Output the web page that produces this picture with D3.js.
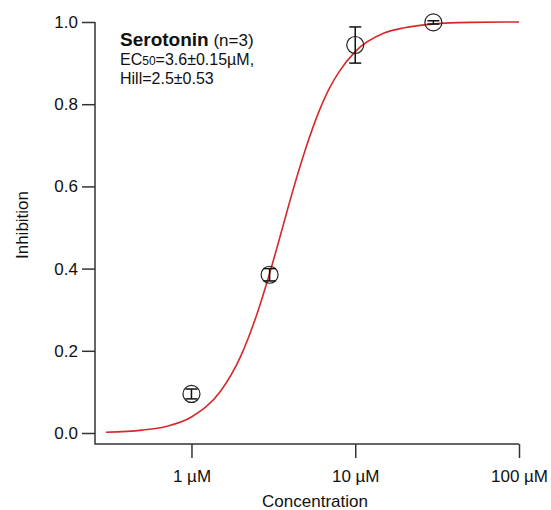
<!DOCTYPE html>
<html>
<head>
<meta charset="utf-8">
<script src="https://cdn.jsdelivr.net/npm/d3@7"></script>
<style>
  body { margin: 0; background: #fff; }
  svg { display: block; font-family: "Liberation Sans", Arial, sans-serif; }
</style>
</head>
<body>
<svg width="551" height="510"></svg>
<script>
// measured points (concentration in µM)
const conc = [1, 3, 10, 30];
const inhib = [0.095, 0.385, 0.944, 0.999];
const errs = [0.012, 0.015, 0.044, 0.004];

// fitted curve
const fitConc = [0.3, 0.5, 0.7, 1, 1.5, 2, 2.5, 3, 3.6, 4, 5, 6, 7, 8, 10, 15, 20, 30, 50, 100];
const fitVal = [0.002, 0.007, 0.016, 0.039, 0.101, 0.187, 0.287, 0.388, 0.5, 0.566, 0.694, 0.782, 0.841, 0.88, 0.928, 0.973, 0.986, 0.995, 0.999, 1.0];

const xTicks = [1, 10, 100];
const xTickLabels = ["1 µM", "10 µM", "100 µM"];
const yTicks = [0, 0.2, 0.4, 0.6, 0.8, 1.0];

const svg = d3.select("svg");
const axisColor = "#333";

const x = d3.scaleLog().domain([0.254, 100]).range([94, 519]);
const y = d3.scaleLinear().domain([0, 1]).range([433, 22]);
const yBottom = 444;

// axes
const xAxis = svg.append("g").attr("transform", `translate(0,${yBottom})`)
  .call(d3.axisBottom(x).tickValues(xTicks).tickFormat((d, i) => xTickLabels[i])
    .tickSize(14).tickPadding(12).tickSizeOuter(0));
const yAxis = svg.append("g").attr("transform", "translate(95,0)")
  .call(d3.axisLeft(y).tickValues(yTicks).tickFormat(d3.format(".1f"))
    .tickSize(13).tickPadding(4).tickSizeOuter(0));

[xAxis, yAxis].forEach(g => {
  g.select(".domain").remove();
  g.selectAll("line").attr("stroke", axisColor).attr("stroke-width", 1.5);
  g.selectAll("text").attr("fill", "#111").style("font-size", "17px")
    .style("font-family", "'Liberation Sans', Arial, sans-serif");
});

// axis lines (frame corner)
svg.append("path")
  .attr("d", `M95,22 V${yBottom} H519`)
  .attr("fill", "none").attr("stroke", axisColor).attr("stroke-width", 1.5);

// axis titles
svg.append("text").attr("x", 315).attr("y", 507).attr("text-anchor", "middle")
  .style("font-size", "17px").attr("fill", "#111").text("Concentration");
svg.append("text").attr("transform", "translate(28,225) rotate(-90)")
  .attr("text-anchor", "middle").style("font-size", "17px").attr("fill", "#111")
  .text("Inhibition");

// fit curve
const fit = fitConc.map((c, i) => [c, fitVal[i]]);
svg.append("path")
  .datum(fit)
  .attr("fill", "none").attr("stroke", "#d42a2a").attr("stroke-width", 1.6)
  .attr("d", d3.line().x(d => x(d[0])).y(d => y(d[1])).curve(d3.curveMonotoneX));

// data points with error bars
const pts = conc.map((c, i) => ({ c, v: inhib[i], e: errs[i] }));
const g = svg.append("g").selectAll("g").data(pts).join("g");
g.append("circle")
  .attr("cx", d => x(d.c)).attr("cy", d => y(d.v)).attr("r", 8.5)
  .attr("fill", "none").attr("stroke", "#222").attr("stroke-width", 1.2);
g.append("line")
  .attr("x1", d => x(d.c)).attr("x2", d => x(d.c))
  .attr("y1", d => y(d.v + d.e)).attr("y2", d => y(d.v - d.e))
  .attr("stroke", "#111").attr("stroke-width", 1.5);
[1, -1].forEach(s => {
  g.append("line")
    .attr("x1", d => x(d.c) - 6).attr("x2", d => x(d.c) + 6)
    .attr("y1", d => y(d.v + s * d.e)).attr("y2", d => y(d.v + s * d.e))
    .attr("stroke", "#111").attr("stroke-width", 1.5);
});

// annotation
const t1 = svg.append("text").attr("x", 120).attr("y", 46).attr("fill", "#111");
t1.append("tspan").style("font-size", "19px").style("font-weight", "bold").text("Serotonin");
t1.append("tspan").style("font-size", "17px").text(" (n=3)");
const t2 = svg.append("text").attr("x", 120).attr("y", 65).attr("fill", "#111").style("font-size", "16px");
t2.append("tspan").text("EC");
t2.append("tspan").style("font-size", "12px").text("50");
t2.append("tspan").text("=3.6±0.15µM,");
svg.append("text").attr("x", 120).attr("y", 84).attr("fill", "#111").style("font-size", "16px")
  .text("Hill=2.5±0.53");
</script>
</body>
</html>
